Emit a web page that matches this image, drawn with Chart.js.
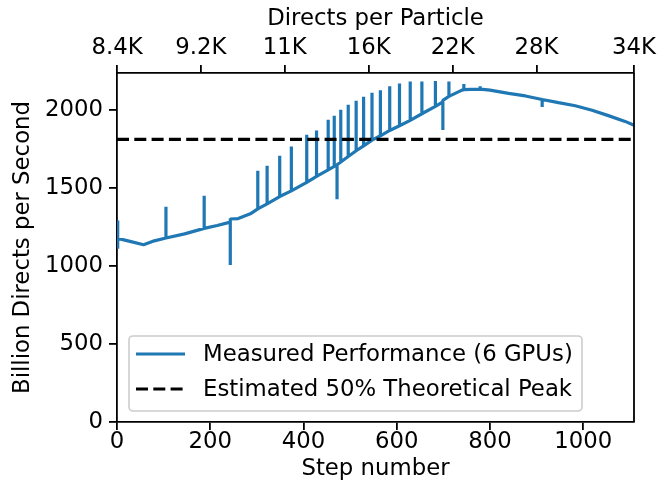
<!DOCTYPE html>
<html>
<head>
<meta charset="utf-8">
<script src="https://cdn.jsdelivr.net/npm/chart.js@4.4.1/dist/chart.umd.min.js"></script>
<style>
  html, body { margin: 0; padding: 0; background: #fff; }
  #wrap { width: 670px; height: 491px; }
</style>
</head>
<body>
<div id="wrap"><canvas id="perfChart" width="670" height="491"></canvas></div>
<script>
// measured throughput per step; a repeated step is one of the spikes
var steps = [
  0, 1, 2, 30, 57, 80,
  105, 105, 105, 145,
  187, 187, 187, 215,
  243, 243, 243, 260, 286,
  302, 302, 302,
  322, 322, 322,
  349, 349, 349,
  374, 374, 374,
  407, 407, 407,
  428, 428, 428,
  453, 453, 453,
  466, 466, 466,
  472, 472, 472,
  480, 480, 480,
  496, 496, 496,
  513, 513, 513,
  529, 529, 529,
  547, 547, 547,
  565, 565, 565,
  585, 585, 585,
  606, 606, 606,
  629, 629, 629,
  654, 654, 654,
  683, 683, 683,
  699, 699, 699,
  712, 712, 712,
  740, 744, 744, 744,
  760, 779, 779, 779,
  800, 840, 876,
  912, 912, 912,
  947, 983, 1019, 1054, 1090, 1109
];
var rates = [
  1290, 1110, 1176, 1155, 1135, 1160,
  1178, 1378, 1178, 1205,
  1240, 1449, 1240, 1258,
  1280, 1005, 1300, 1303, 1333,
  1365, 1609, 1365,
  1397, 1641, 1397,
  1444, 1705, 1444,
  1480, 1765, 1480,
  1534, 1840, 1534,
  1573, 1867, 1573,
  1615, 1936, 1615,
  1637, 1962, 1637,
  1647, 1427, 1647,
  1665, 2000, 1665,
  1700, 2032, 1700,
  1737, 2058, 1737,
  1768, 2083, 1768,
  1805, 2109, 1805,
  1833, 2124, 1833,
  1867, 2150, 1867,
  1897, 2167, 1897,
  1932, 2180, 1932,
  1974, 2180, 1974,
  2021, 2184, 2021,
  2050, 1870, 2060,
  2085, 2180, 2085,
  2125, 2128, 2165, 2128,
  2130, 2132, 2150, 2132,
  2125, 2105, 2088,
  2065, 2018, 2065,
  2045, 2025, 1996, 1962, 1925, 1900
];
var peakRate = 1810;
var lastStep = 1109;

var stepTicks = [0, 200, 400, 600, 800, 1000];
var directTickSteps = [0, 180, 360, 540, 720, 900, 1109];
var directTickLabels = ['8.4K', '9.2K', '11K', '16K', '22K', '28K', '34K'];
var rateTicks = [0, 500, 1000, 1500, 2000];

var FONT = { family: 'DejaVu Sans', size: 22.8 };
var BLUE = '#1f77b4';

function axisLook() {
  return {
    grid: { display: true, drawOnChartArea: false, drawTicks: true, color: '#000', lineWidth: 1.8, tickLength: 8 },
    border: { display: true, color: '#000', width: 1.8 }
  };
}

function plain(v) { return String(v); }

var xBottom = Object.assign(axisLook(), {
  type: 'linear', position: 'bottom', min: 0, max: lastStep,
  afterBuildTicks: function (s) { s.ticks = stepTicks.map(function (v) { return { value: v }; }); },
  afterFit: function (s) { s.height = 69; },
  ticks: { font: FONT, color: '#000', padding: -2, maxRotation: 0, autoSkip: false, callback: plain },
  title: { display: true, text: 'Step number', font: FONT, color: '#000', padding: { top: 0, bottom: 8 } }
});

var xTop = Object.assign(axisLook(), {
  type: 'linear', position: 'top', min: 0, max: lastStep,
  afterBuildTicks: function (s) { s.ticks = directTickSteps.map(function (v) { return { value: v }; }); },
  afterFit: function (s) { s.height = 73; },
  ticks: {
    font: FONT, color: '#000', padding: 3, maxRotation: 0, autoSkip: false,
    callback: function (v) { return directTickLabels[directTickSteps.indexOf(v)]; }
  },
  title: { display: true, text: 'Directs per Particle', font: FONT, color: '#000', padding: { top: 5, bottom: 0 } }
});

var yLeft = Object.assign(axisLook(), {
  type: 'linear', position: 'left', min: 0, max: 2235,
  afterBuildTicks: function (s) { s.ticks = rateTicks.map(function (v) { return { value: v }; }); },
  afterFit: function (s) { s.width = 117; },
  ticks: { font: FONT, color: '#000', padding: 6, callback: plain },
  title: { display: true, text: 'Billion Directs per Second', font: FONT, color: '#000', padding: { top: 9, bottom: 0 } }
});

// right spine and the boxed legend in the lower left of the plot
var framePlugin = {
  id: 'frame',
  afterDraw: function (chart) {
    var ctx = chart.ctx, a = chart.chartArea;
    ctx.save();
    ctx.strokeStyle = '#000';
    ctx.lineWidth = 1.8;
    ctx.beginPath();
    ctx.moveTo(a.right, a.top);
    ctx.lineTo(a.right, a.bottom);
    ctx.stroke();

    var bx = a.left + 12, by = a.bottom - 86, bw = 453, bh = 75;
    ctx.beginPath();
    ctx.roundRect(bx, by, bw, bh, 4);
    ctx.fillStyle = 'rgba(255,255,255,0.8)';
    ctx.fill();
    ctx.strokeStyle = '#cccccc';
    ctx.lineWidth = 1.6;
    ctx.stroke();

    var sets = chart.data.datasets;
    ctx.font = FONT.size + 'px "' + FONT.family + '"';
    ctx.textBaseline = 'middle';
    ctx.textAlign = 'left';
    for (var i = 0; i < sets.length; i++) {
      var ly = by + 18 + i * 35;
      ctx.beginPath();
      ctx.setLineDash(sets[i].borderDash || []);
      ctx.strokeStyle = sets[i].borderColor;
      ctx.lineWidth = sets[i].borderWidth;
      ctx.moveTo(bx + 7, ly);
      ctx.lineTo(bx + 56, ly);
      ctx.stroke();
      ctx.setLineDash([]);
      ctx.fillStyle = '#000';
      ctx.fillText(sets[i].label, bx + 74, ly + 1);
    }
    ctx.restore();
  }
};

new Chart(document.getElementById('perfChart').getContext('2d'), {
  type: 'line',
  data: {
    datasets: [{
      label: 'Measured Performance (6 GPUs)',
      data: steps.map(function (s, i) { return { x: s, y: rates[i] }; }),
      borderColor: BLUE,
      borderWidth: 3.2,
      borderJoinStyle: 'bevel',
      pointRadius: 0,
      tension: 0,
      order: 1
    }, {
      label: 'Estimated 50% Theoretical Peak',
      data: [{ x: 0, y: peakRate }, { x: lastStep, y: peakRate }],
      borderColor: '#000',
      borderWidth: 3.2,
      borderDash: [12, 5.3],
      pointRadius: 0,
      order: 0
    }]
  },
  options: {
    responsive: false,
    animation: false,
    devicePixelRatio: 1,
    layout: { padding: { left: 0, right: 36, top: 0, bottom: 0 } },
    plugins: { legend: { display: false }, tooltip: { enabled: false } },
    scales: { x: xBottom, x2: xTop, y: yLeft }
  },
  plugins: [framePlugin]
});
</script>
</body>
</html>
